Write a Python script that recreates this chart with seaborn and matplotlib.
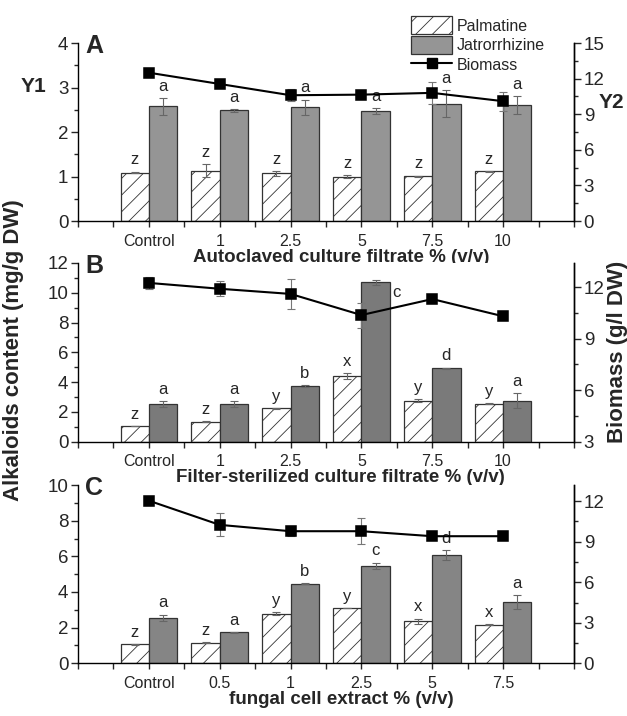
import numpy as np
import pandas as pd
import matplotlib
matplotlib.use("Agg")
import matplotlib.pyplot as plt
import seaborn as sns
from matplotlib.patches import Patch
from matplotlib.lines import Line2D
from matplotlib.ticker import AutoMinorLocator, MultipleLocator

# ---- data ----
cats_a = ["Control", "1", "2.5", "5", "7.5", "10"]
palm_a = [1.09, 1.13, 1.07, 1.00, 1.01, 1.12]
palm_a_err = [0.02, 0.15, 0.05, 0.04, 0.01, 0.01]
jat_a = [2.58, 2.49, 2.56, 2.47, 2.64, 2.61]
jat_a_err = [0.19, 0.03, 0.17, 0.07, 0.30, 0.20]
bio_a = [12.5, 11.55, 10.6, 10.65, 10.8, 10.1]
bio_a_err = [0.2, 0.1, 0.5, 0.15, 0.9, 0.8]
let_palm_a = ["z", "z", "z", "z", "z", "z"]
let_jat_a = ["a", "a", "a", "a", "a", "a"]

cats_b = ["Control", "1", "2.5", "5", "7.5", "10"]
palm_b = [1.05, 1.34, 2.24, 4.39, 2.76, 2.55]
palm_b_err = [0.02, 0.02, 0.02, 0.2, 0.1, 0.02]
jat_b = [2.53, 2.53, 3.74, 10.7, 4.93, 2.76]
jat_b_err = [0.22, 0.22, 0.05, 0.18, 0.05, 0.5]
bio_b = [12.24, 11.9, 11.6, 10.37, 11.3, 10.3]
bio_b_err = [0.33, 0.45, 0.85, 0.73, 0.05, 0.05]
let_palm_b = ["z", "z", "y", "x", "y", "y"]
let_jat_b = ["a", "a", "b", "c", "d", "a"]

cats_c = ["Control", "0.5", "1", "2.5", "5", "7.5"]
palm_c = [1.07, 1.16, 2.79, 3.10, 2.36, 2.17]
palm_c_err = [0.02, 0.02, 0.08, 0.02, 0.15, 0.02]
jat_c = [2.56, 1.74, 4.47, 5.48, 6.07, 3.42]
jat_c_err = [0.17, 0.02, 0.02, 0.17, 0.3, 0.4]
bio_c = [12.04, 10.25, 9.78, 9.78, 9.41, 9.41]
bio_c_err = [0.3, 0.86, 0.36, 0.95, 0.1, 0.1]
let_palm_c = ["z", "z", "y", "y", "x", "x"]
let_jat_c = ["a", "a", "b", "c", "d", "a"]

sns.set_theme(style="ticks")
plt.rcParams["font.family"] = ["Liberation Sans", "DejaVu Sans"]
plt.rcParams["hatch.linewidth"] = 0.6

EDGE = "#333333"


def panel(ax, cats, palm, palm_err, jat, jat_err, bio, bio_err, lp, lj,
          jcolor, ylim, ystep, y2lim, letter, xlabel):
    n = len(cats)
    df = pd.DataFrame({"conc": cats * 2,
                       "value": palm + jat,
                       "compound": ["Palmatine"] * n + ["Jatrorrhizine"] * n})
    sns.barplot(data=df, x="conc", y="value", hue="compound",
                palette=["white", jcolor], edgecolor=EDGE, linewidth=0.9,
                errorbar=None, legend=False, width=0.8, ax=ax)
    for bar in ax.containers[0]:
        bar.set_hatch("//")

    # error bars + significance letters
    for cont, err, labs in zip(ax.containers, [palm_err, jat_err], [lp, lj]):
        xs = [b.get_x() + b.get_width() / 2 for b in cont]
        hs = [b.get_height() for b in cont]
        ax.errorbar(xs, hs, yerr=err, fmt="none", ecolor="#666666",
                    elinewidth=0.8, capsize=3, capthick=0.8, zorder=5)
        for x, h, e, l in zip(xs, hs, err, labs):
            if h + e > 0.85 * ylim[1]:
                ax.annotate(l, (x, h), xytext=(12, -7), textcoords="offset points",
                            ha="left", va="center", fontsize=12)
            else:
                ax.annotate(l, (x, h + e), xytext=(0, 3), textcoords="offset points",
                            ha="center", va="bottom", fontsize=12)

    ax.set_ylim(*ylim)
    ax.yaxis.set_major_locator(MultipleLocator(ystep))
    ax.yaxis.set_minor_locator(AutoMinorLocator(2))
    ax.set_ylabel("")
    ax.set_xlabel(xlabel, fontsize=13.5, fontweight="bold", labelpad=0)
    ax.xaxis.label.set_x(0.53)
    ax.spines["top"].set_visible(False)

    # biomass on the right axis
    ax2 = ax.twinx()
    sns.pointplot(x=cats, y=bio, ax=ax2, color="black", marker="s",
                  markersize=7, linewidth=1.5, errorbar=None)
    bx = ax2.lines[0].get_xdata()
    ax2.errorbar(bx, bio, yerr=bio_err, fmt="none", ecolor="#777777",
                 elinewidth=0.8, capsize=3, capthick=0.8, zorder=1)
    ax2.set_ylim(*y2lim)
    ax2.yaxis.set_major_locator(MultipleLocator(3))
    ax2.yaxis.set_minor_locator(AutoMinorLocator(2))
    ax2.set_ylabel("")
    ax2.set_xlabel("")
    for s in ["top", "left", "bottom"]:
        ax2.spines[s].set_visible(False)

    ax.set_xlim(-1, 6)
    ax.xaxis.set_minor_locator(MultipleLocator(0.5))
    ax.tick_params(axis="x", which="both", length=4, width=1, labelsize=11.5,
                   pad=5, direction="out")
    ax.tick_params(axis="y", which="major", length=5, width=1, labelsize=13.5, pad=2)
    ax.tick_params(axis="y", which="minor", length=3, width=1)
    ax2.tick_params(axis="y", which="major", length=5, width=1, labelsize=13.5, pad=2)
    ax2.tick_params(axis="y", which="minor", length=3, width=1)
    for a in (ax, ax2):
        for s in a.spines.values():
            s.set_linewidth(1.0)
            s.set_color("black")

    ax.text(0.015, 0.985, letter, transform=ax.transAxes, fontsize=18,
            fontweight="bold", ha="left", va="center")
    return ax2


fig = plt.figure(figsize=(6.27, 7.16), dpi=100)
ax_a = fig.add_axes([0.1244, 0.6913, 0.791, 0.2486])
ax_b = fig.add_axes([0.1244, 0.3831, 0.791, 0.2496])
ax_c = fig.add_axes([0.1244, 0.0736, 0.791, 0.2490])

ax2_a = panel(ax_a, cats_a, palm_a, palm_a_err, jat_a, jat_a_err, bio_a, bio_a_err,
              let_palm_a, let_jat_a, "#959595", (0, 4), 1, (0, 15), "A",
              "Autoclaved culture filtrate % (v/v)")
panel(ax_b, cats_b, palm_b, palm_b_err, jat_b, jat_b_err, bio_b, bio_b_err,
      let_palm_b, let_jat_b, "#7a7a7a", (0, 12), 2, (3, 13.4), "B",
      "Filter-sterilized culture filtrate % (v/v)")
panel(ax_c, cats_c, palm_c, palm_c_err, jat_c, jat_c_err, bio_c, bio_c_err,
      let_palm_c, let_jat_c, "#858585", (0, 10), 2, (0, 13.2), "C",
      "fungal cell extract % (v/v)")

handles = [Patch(facecolor="white", edgecolor=EDGE, hatch="//", linewidth=0.9),
           Patch(facecolor="#959595", edgecolor=EDGE, linewidth=0.9),
           Line2D([], [], color="black", marker="s", markersize=7, linewidth=1.5)]
ax2_a.legend(handles, ["Palmatine", "Jatrorrhizine", "Biomass"], loc="upper right",
             bbox_to_anchor=(0.955, 1.185), frameon=False, fontsize=11.5,
             handlelength=2.6, handleheight=1.3, labelspacing=0.15,
             handletextpad=0.3, borderaxespad=0)

fig.text(14 / 627, 1 - 350 / 716, "Alkaloids content (mg/g DW)", rotation=90,
         ha="center", va="center", fontsize=16, fontweight="bold")
fig.text(617 / 627, 1 - 352 / 716, "Biomass (g/l DW)", rotation=90,
         ha="center", va="center", fontsize=16, fontweight="bold")
fig.text(33 / 627, 1 - 86 / 716, "Y1", ha="center", va="center",
         fontsize=15, fontweight="bold")
fig.text(611 / 627, 1 - 103 / 716, "Y2", ha="center", va="center",
         fontsize=15, fontweight="bold")

fig.savefig("out.png", dpi=100)
